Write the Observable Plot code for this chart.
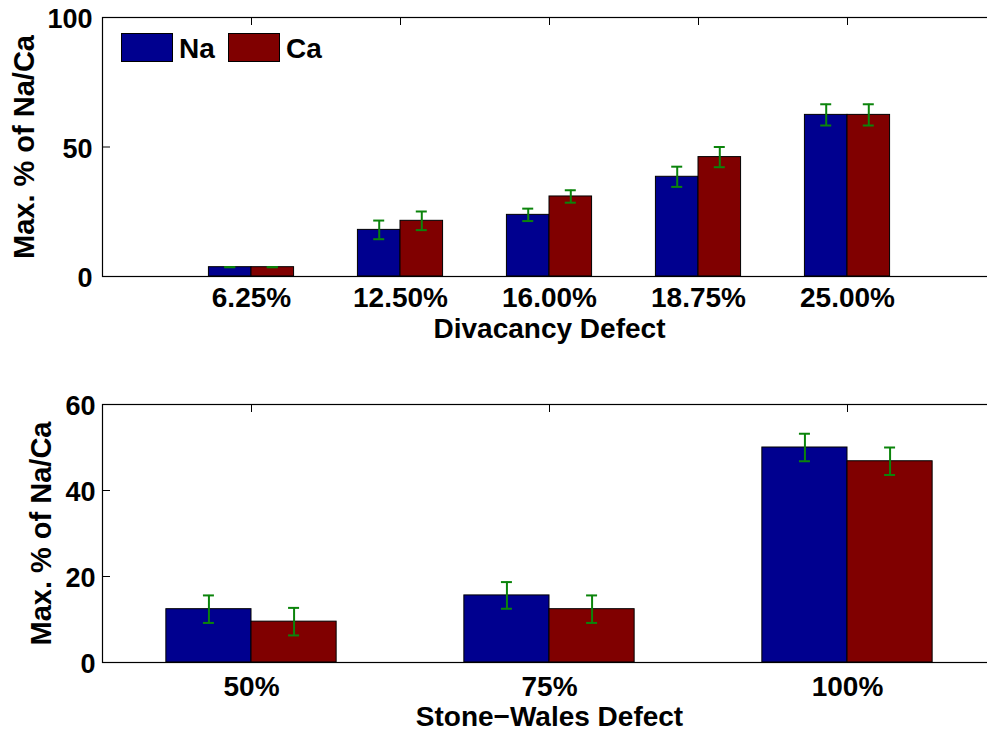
<!DOCTYPE html>
<html><head><meta charset="utf-8">
<script src="https://cdn.jsdelivr.net/npm/d3@7"></script>
<script src="https://cdn.jsdelivr.net/npm/@observablehq/plot@0.6"></script>
<style>
html,body{margin:0;padding:0;overflow:hidden;background:#fff;width:987px;height:731px}
#wrap{position:relative;width:987px;height:731px;overflow:hidden}
#wrap svg{display:block}
.lg{position:absolute;font-family:'Liberation Sans',Arial,sans-serif;font-weight:bold;font-size:28px;line-height:28px;color:#000;white-space:nowrap}
.sw{position:absolute;box-sizing:border-box;border:1px solid #000;width:52px;height:29px}
</style></head><body><div id="wrap"></div>
<script>
// ---- data ----
const seriesNames = ["Na", "Ca"];
const divacancyCategories = ["6.25%", "12.50%", "16.00%", "18.75%", "25.00%"];
const divacancyNa = [3.6, 18.0, 23.8, 38.5, 62.4];
const divacancyCa = [3.6, 21.5, 30.9, 46.1, 62.4];
const divacancyNaErr = [0, 3.6, 2.4, 3.9, 4.1];
const divacancyCaErr = [0, 3.6, 2.4, 3.9, 4.1];
const divacancyYTicks = [0, 50, 100];

const stoneWalesCategories = ["50%", "75%", "100%"];
const stoneWalesNa = [12.4, 15.6, 50.0];
const stoneWalesCa = [9.5, 12.4, 46.8];
const stoneWalesNaErr = [3.2, 3.1, 3.2];
const stoneWalesCaErr = [3.2, 3.2, 3.2];
const stoneWalesYTicks = [0, 20, 40, 60];

// ---- style ----
const NA_COLOR = "#00008f", CA_COLOR = "#800000", ERR_COLOR = "#0b840b";
const FONT = "'Liberation Sans', Arial, Helvetica, sans-serif";
const BAR_W = 2 / 7; // MATLAB grouped bar width per series (category units)
const W = 996, ML = 102;

function rowsFor(cats, na, ca, naErr, caErr) {
  const rows = [];
  cats.forEach((c, i) => {
    rows.push({pos: i + 1, category: c, series: "Na", value: na[i], err: naErr[i]});
    rows.push({pos: i + 1, category: c, series: "Ca", value: ca[i], err: caErr[i]});
  });
  return rows;
}

function panel({cats, rows, yDomain, yTicks, xDomain, height, marginTop, marginBottom,
                xLabel, xPad, xLabelDy, yPad, yLabelDx}) {
  const plotW = W - ML;
  const plotH = height - marginTop - marginBottom;
  const cx = d => d.pos + (d.series === "Na" ? -BAR_W / 2 : BAR_W / 2);
  const xTicks = cats.map((c, i) => i + 1);
  return Plot.plot({
    width: W, height, marginLeft: ML, marginRight: 0, marginTop, marginBottom,
    style: {fontFamily: FONT, fontWeight: "bold", maxWidth: "none", background: "white", color: "#000"},
    x: {domain: xDomain, axis: null},
    y: {domain: yDomain, axis: null},
    color: {domain: seriesNames, range: [NA_COLOR, CA_COLOR]},
    marks: [
      Plot.rectY(rows, {
        x1: d => d.pos - (d.series === "Na" ? BAR_W : 0),
        x2: d => d.pos + (d.series === "Ca" ? BAR_W : 0),
        y: "value", fill: "series", stroke: "#000", strokeWidth: 1
      }),
      Plot.ruleX(rows, {x: cx, y1: d => d.value - d.err, y2: d => d.value + d.err, stroke: ERR_COLOR, strokeWidth: 2}),
      Plot.ruleY(rows, {y: d => d.value - d.err, x1: cx, x2: cx, insetLeft: -5.5, insetRight: -5.5, stroke: ERR_COLOR, strokeWidth: 2}),
      Plot.ruleY(rows, {y: d => d.value + d.err, x1: cx, x2: cx, insetLeft: -5.5, insetRight: -5.5, stroke: ERR_COLOR, strokeWidth: 2}),
      Plot.frame({stroke: "#000", strokeWidth: 1.2}),
      // inward ticks (MATLAB box style)
      Plot.ruleX(xTicks, {x: d => d, insetBottom: plotH - 8, stroke: "#000", strokeWidth: 1}),
      Plot.ruleY(yTicks, {y: d => d, insetRight: plotW - 8, stroke: "#000", strokeWidth: 1}),
      Plot.ruleY(yTicks, {y: d => d, insetLeft: plotW - 8, stroke: "#000", strokeWidth: 1}),
      Plot.axisX({ticks: xTicks, tickFormat: i => cats[i - 1], tickSize: 0, tickPadding: xPad,
                  label: null, fontSize: 28, fontWeight: "bold", fill: "#000"}),
      Plot.axisY({ticks: yTicks, tickSize: 0, tickPadding: yPad, label: null, dy: 2,
                  fontSize: 27, fontWeight: "bold", fill: "#000"}),
      Plot.text([xLabel], {text: d => d, frameAnchor: "bottom", lineAnchor: "bottom", dy: xLabelDy,
                  textAnchor: "middle", fontSize: 28, fontWeight: "bold", fill: "#000"}),
      Plot.text(["Max. % of Na/Ca"], {text: d => d, frameAnchor: "left", rotate: -90, lineAnchor: "bottom",
                  textAnchor: "middle", dx: yLabelDx, fontSize: 29, fontWeight: "bold", fill: "#000"})
    ]
  });
}

const wrap = document.getElementById("wrap");

wrap.appendChild(panel({
  cats: divacancyCategories,
  rows: rowsFor(divacancyCategories, divacancyNa, divacancyCa, divacancyNaErr, divacancyCaErr),
  yDomain: [0, 100], yTicks: divacancyYTicks, xDomain: [0, divacancyCategories.length + 1],
  height: 370, marginTop: 17, marginBottom: 94,
  xLabel: "Divacancy Defect", xPad: 11, xLabelDy: 61, yPad: 10, yLabelDx: -69
}));

wrap.appendChild(panel({
  cats: stoneWalesCategories,
  rows: rowsFor(stoneWalesCategories, stoneWalesNa, stoneWalesCa, stoneWalesNaErr, stoneWalesCaErr),
  yDomain: [0, 60], yTicks: stoneWalesYTicks, xDomain: [0.5, stoneWalesCategories.length + 0.5],
  height: 361, marginTop: 34, marginBottom: 69,
  xLabel: "Stone\u2212Wales Defect", xPad: 14, xLabelDy: 63, yPad: 7, yLabelDx: -52
}));

// legend (top-left, inside upper axes)
const legendItems = [
  {name: seriesNames[0], color: NA_COLOR, sx: 121, tx: 179},
  {name: seriesNames[1], color: CA_COLOR, sx: 228, tx: 286}
];
for (const it of legendItems) {
  const sw = document.createElement("div");
  sw.className = "sw";
  sw.style.left = it.sx + "px"; sw.style.top = "33px"; sw.style.background = it.color;
  wrap.appendChild(sw);
  const t = document.createElement("div");
  t.className = "lg";
  t.style.left = it.tx + "px"; t.style.top = "35px";
  t.textContent = it.name;
  wrap.appendChild(t);
}
</script>
</body></html>
